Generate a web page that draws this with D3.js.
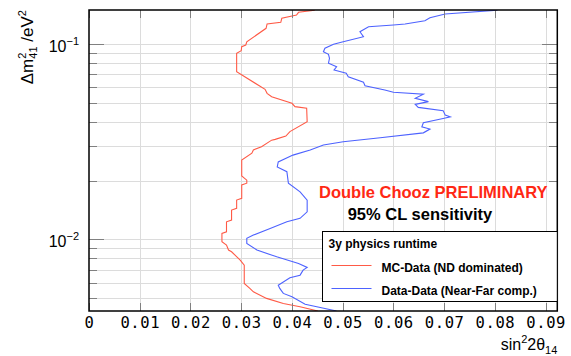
<!DOCTYPE html>
<html>
<head>
<meta charset="utf-8">
<script src="https://cdn.jsdelivr.net/npm/d3@7"></script>
<style>
  body { margin: 0; background: #fff; }
  svg { display: block; font-family: "Liberation Sans", Arial, sans-serif; }
  .grid line { stroke: #dcdcdc; stroke-width: 1; shape-rendering: crispEdges; }
  .grid path { display: none; }
  .axis path { display: none; }
  .axis line { stroke: #808080; shape-rendering: crispEdges; }
  .axis--x text { font-family: "DejaVu Sans Mono", monospace; font-size: 15.5px; letter-spacing: 0.6px; fill: #000; }
</style>
</head>
<body>
<svg width="571" height="356"></svg>
<script>
"use strict";

// contour: sin^2(2theta14) vs dm^2_41 [eV^2]
var redSin2 = [0.0445, 0.0413, 0.0409, 0.0380, 0.0378, 0.0351, 0.0349, 0.0311, 0.0309, 0.0301,
  0.0300, 0.0291, 0.0291, 0.0347, 0.0351, 0.0360, 0.0400, 0.0406, 0.0429, 0.0430,
  0.0396, 0.0388, 0.0367, 0.0360, 0.0340, 0.0324, 0.0321, 0.0301, 0.0301, 0.0311,
  0.0311, 0.0301, 0.0301, 0.0291, 0.0291, 0.0281, 0.0281, 0.0271, 0.0271, 0.0262,
  0.0262, 0.0271, 0.0275, 0.0281, 0.0298, 0.0306, 0.0306, 0.0317, 0.0324, 0.0350,
  0.0383, 0.0416, 0.0451];
var redDm2 = [0.149, 0.1453, 0.1408, 0.1354, 0.1291, 0.1266, 0.1203, 0.1027, 0.0988, 0.0969,
  0.0924, 0.0896, 0.0721, 0.0586, 0.0559, 0.0537, 0.0497, 0.0478, 0.0469, 0.0400,
  0.0356, 0.0338, 0.0325, 0.0322, 0.0298, 0.0287, 0.0276, 0.0255, 0.0211, 0.0201,
  0.0194, 0.0190, 0.01622, 0.01589, 0.01441, 0.01413, 0.01256, 0.0123, 0.01094, 0.01073,
  0.00972, 0.00935, 0.00882, 0.00864, 0.00783, 0.00738, 0.00595, 0.00561, 0.00539, 0.00499,
  0.0047, 0.00452, 0.0043];

var blueSin2 = [0.0805, 0.0702, 0.0672, 0.0662, 0.0623, 0.0600, 0.0551, 0.0534, 0.0541, 0.0501,
  0.0482, 0.0465, 0.0462, 0.0472, 0.0474, 0.0472, 0.0488, 0.0483, 0.0507, 0.0511,
  0.0541, 0.0544, 0.0583, 0.0600, 0.0659, 0.0643, 0.0669, 0.0643, 0.0649, 0.0698,
  0.0702, 0.0712, 0.0698, 0.0659, 0.0656, 0.0672, 0.0659, 0.0574, 0.0501, 0.0462,
  0.0436, 0.0402, 0.0373, 0.0371, 0.0390, 0.0393, 0.0416, 0.0430, 0.0430, 0.0416,
  0.0390, 0.0357, 0.0324, 0.0311, 0.0311, 0.0331, 0.0370, 0.0413, 0.0430, 0.0422,
  0.0416, 0.0396, 0.0373, 0.0376, 0.0383, 0.0400, 0.0426, 0.0449, 0.0488];
var blueDm2 = [0.149, 0.1424, 0.1363, 0.1316, 0.1266, 0.1251, 0.1226, 0.1156, 0.1090, 0.1027,
  0.0997, 0.0951, 0.0913, 0.0886, 0.0845, 0.0797, 0.0765, 0.0736, 0.0708, 0.0680,
  0.0637, 0.0612, 0.0581, 0.0566, 0.0553, 0.0527, 0.0507, 0.0491, 0.0474, 0.0456,
  0.0433, 0.0424, 0.0416, 0.0395, 0.0377, 0.0367, 0.0351, 0.0331, 0.0316, 0.0304,
  0.0287, 0.0270, 0.0249, 0.0235, 0.0222, 0.0194, 0.0175, 0.01589, 0.01384, 0.01281,
  0.0123, 0.01138, 0.01052, 0.01012, 0.00954, 0.00882, 0.00814, 0.00753, 0.00719, 0.00696,
  0.00656, 0.00636, 0.00583, 0.00561, 0.00529, 0.00508, 0.00466, 0.00452, 0.0043];

var xTicks = [0, 0.01, 0.02, 0.03, 0.04, 0.05, 0.06, 0.07, 0.08, 0.09];
var yMajor = [0.01, 0.1];
var yMinor = [0.005, 0.006, 0.007, 0.008, 0.009, 0.02, 0.03, 0.04, 0.05, 0.06, 0.07, 0.08, 0.09];
var yMajorExp = ["\u22122", "\u22121"];

var seriesNames = ["MC-Data (ND dominated)", "Data-Data (Near-Far comp.)"];
var seriesColors = ["#ff5a46", "#4d62ff"];

var svg = d3.select("svg"),
    pLeft = 89, pRight = 557.3, pTop = 10, pBottom = 311;

var x = d3.scaleLinear().domain([0, 0.0923]).range([pLeft, pRight]),
    y = d3.scaleLog().domain([0.0043, 0.1493]).range([pBottom, pTop]);

var W = pRight - pLeft, H = pBottom - pTop;

// grid
svg.append("g").attr("class", "grid")
    .attr("transform", "translate(0," + pBottom + ")")
    .call(d3.axisBottom(x).tickValues(xTicks.slice(1)).tickSize(-H).tickFormat(""));
svg.append("g").attr("class", "grid")
    .attr("transform", "translate(" + pLeft + ",0)")
    .call(d3.axisLeft(y).tickValues(yMajor.concat(yMinor)).tickSize(-W).tickFormat(""));

// curves
svg.append("clipPath").attr("id", "clip")
  .append("rect").attr("x", pLeft).attr("y", pTop).attr("width", W).attr("height", H);

var line = d3.line()
    .x(function(d) { return x(d[0]); })
    .y(function(d) { return y(d[1]); });

var curves = [d3.zip(redSin2, redDm2), d3.zip(blueSin2, blueDm2)];

svg.append("g").attr("clip-path", "url(#clip)")
  .selectAll("path")
  .data(curves)
  .enter().append("path")
    .attr("d", line)
    .style("fill", "none")
    .style("stroke", function(d, i) { return seriesColors[i]; })
    .style("stroke-width", 1.1);

// ticks (inside, ROOT style)
svg.append("g").attr("class", "axis axis--x")
    .attr("transform", "translate(0," + pBottom + ")")
    .call(d3.axisBottom(x).tickValues(xTicks).tickSize(-8).tickPadding(6)
      .tickFormat(function(d) { return d === 0 ? "0" : d3.format(".2f")(d); }));
svg.append("g").attr("class", "axis")
    .attr("transform", "translate(0," + pTop + ")")
    .call(d3.axisTop(x).tickValues(xTicks).tickSize(-8).tickFormat(""));

[[pLeft, d3.axisLeft], [pRight, d3.axisRight]].forEach(function(s) {
  svg.append("g").attr("class", "axis")
      .attr("transform", "translate(" + s[0] + ",0)")
      .call(s[1](y).tickValues(yMajor).tickSize(-15).tickFormat(""));
  svg.append("g").attr("class", "axis")
      .attr("transform", "translate(" + s[0] + ",0)")
      .call(s[1](y).tickValues(yMinor).tickSize(-8).tickFormat(""));
});

// y tick labels 10^-n
var ylab = svg.append("g").selectAll("text")
    .data(yMajor)
    .enter().append("text")
      .attr("x", 79)
      .attr("y", function(d) { return y(d) + 7.5; })
      .attr("text-anchor", "end")
      .style("font-size", "16px");
ylab.append("tspan").text("10");
ylab.append("tspan")
    .attr("dy", -7)
    .style("font-size", "11px")
    .text(function(d, i) { return yMajorExp[i]; });

// frame
svg.append("rect")
    .attr("x", pLeft).attr("y", pTop).attr("width", W).attr("height", H)
    .style("fill", "none").style("stroke", "#000").style("stroke-width", 1.5);

// axis titles
var xt = svg.append("text")
    .attr("x", pRight).attr("y", 350)
    .attr("text-anchor", "end")
    .style("font-size", "16px");
xt.append("tspan").text("sin");
xt.append("tspan").attr("dy", -7).style("font-size", "11px").text("2");
xt.append("tspan").attr("dy", 7).text("2\u03b8");
xt.append("tspan").attr("dy", 4).style("font-size", "11px").text("14");

var yt = svg.append("text")
    .attr("transform", "translate(33," + pTop + ") rotate(-90)")
    .attr("text-anchor", "end")
    .style("font-size", "17px");
yt.append("tspan").text("\u0394m");
yt.append("tspan").attr("dy", -7).style("font-size", "11px").text("2");
yt.append("tspan").attr("dx", -6).attr("dy", 11).style("font-size", "11px").text("41");
yt.append("tspan").attr("dy", -4).text(" /eV");
yt.append("tspan").attr("dy", -7).style("font-size", "11px").text("2");

// labels
svg.append("text")
    .attr("x", 319).attr("y", 198.3)
    .style("font-size", "16.5px").style("font-weight", "bold").style("fill", "#ff2814")
    .text("Double Chooz PRELIMINARY");
svg.append("text")
    .attr("x", 347.7).attr("y", 220)
    .style("font-size", "16.5px").style("font-weight", "bold").style("fill", "#000")
    .text("95% CL sensitivity");

// legend
var legend = svg.append("g").attr("transform", "translate(322.5,231.5)");
legend.append("rect")
    .attr("width", pRight - 322.5).attr("height", 70)
    .style("fill", "#fff").style("stroke", "#000").style("stroke-width", 1);
legend.append("text")
    .attr("x", 6).attr("y", 16)
    .style("font-size", "12px").style("font-weight", "bold")
    .text("3y physics runtime");

var item = legend.selectAll(".item")
    .data(seriesNames)
    .enter().append("g")
      .attr("class", "item")
      .attr("transform", function(d, i) { return "translate(0," + (34 + i * 23) + ")"; });
item.append("line")
    .attr("x1", 9).attr("x2", 49)
    .attr("y1", 0).attr("y2", 0)
    .attr("stroke", function(d, i) { return seriesColors[i]; })
    .attr("stroke-width", 1.2);
item.append("text")
    .attr("x", 59).attr("y", 6)
    .style("font-size", "12px").style("font-weight", "bold")
    .text(function(d) { return d; });
</script>
</body>
</html>
